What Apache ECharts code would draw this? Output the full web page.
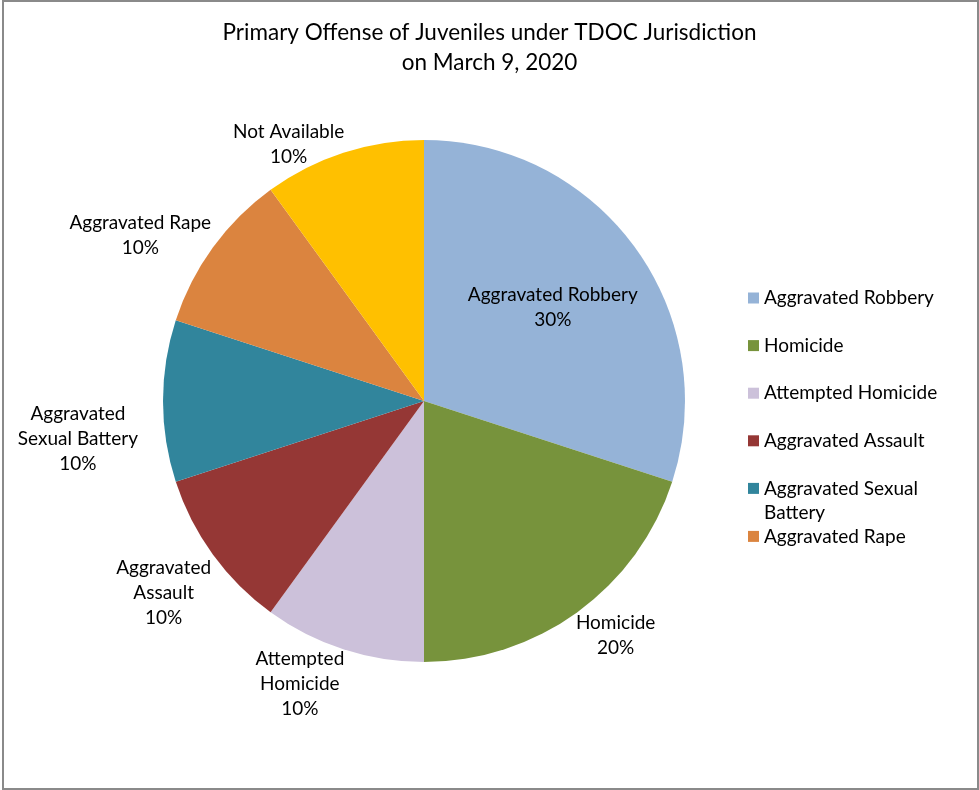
<!DOCTYPE html>
<html>
<head>
<meta charset="utf-8">
<script src="https://cdn.jsdelivr.net/npm/echarts@6/dist/echarts.min.js"></script>
<style>
  html, body { margin: 0; padding: 0; background: #fff; }
  #frame { position: absolute; left: 2px; top: 0; width: 977px; height: 790px; box-sizing: border-box; border: 2px solid #8a8a8a; }
  #main { position: absolute; left: 0; top: 0; width: 979px; height: 790px; }
</style>
</head>
<body>
<div id="frame"></div>
<div id="main"></div>
<script>
// ---- data ----
const titleLines = ['Primary Offense of Juveniles under TDOC Jurisdiction', 'on March 9, 2020'];
const categories = ['Aggravated Robbery', 'Homicide', 'Attempted Homicide', 'Aggravated Assault', 'Aggravated Sexual Battery', 'Aggravated Rape', 'Not Available'];
const percents = [30, 20, 10, 10, 10, 10, 10];
const sliceLabelTexts = ['Aggravated Robbery', 'Homicide', 'Attempted\nHomicide', 'Aggravated\nAssault', 'Aggravated\nSexual Battery', 'Aggravated Rape', 'Not Available'];
const legendNames = ['Aggravated Robbery', 'Homicide', 'Attempted Homicide', 'Aggravated Assault', 'Aggravated Sexual Battery', 'Aggravated Rape'];
const legendTexts = ['Aggravated Robbery', 'Homicide', 'Attempted Homicide', 'Aggravated Assault', 'Aggravated Sexual\nBattery', 'Aggravated Rape'];
const sliceColors = ['#95B3D7', '#77933C', '#CCC1DA', '#953735', '#31859C', '#DB843F', '#FFC000'];

// ---- layout / style ----
const FONT = 'Lato';
const PIE_CX = 424, PIE_CY = 401, PIE_R = 261;
const LABEL_GAP = -3;          // corner distance beyond the rim
const SIDE_EXTRA = 28;         // extra clearance for labels beside the pie (left/right)
const UPPER_OVERLAP = 14;      // upper labels may tuck their short last line toward the rim
const INSIDE_FRACTION = 0.61;
const LEGEND_LEFT = 748, LEGEND_FIRST = 298, LEGEND_STEP = 47.6, LEGEND_LH = 24;

const chart = echarts.init(document.getElementById('main'), null, { renderer: 'canvas' });

// one legend block per entry so multi-line entries keep the marker on their first line
const legends = [];
let centerY = LEGEND_FIRST;
legendNames.forEach(function (name, i) {
  const lines = legendTexts[i].split('\n');
  const padded = new Array(lines.length - 1).fill('').concat(lines);
  const halfH = padded.length * LEGEND_LH / 2;
  legends.push({
    data: [name],
    orient: 'vertical',
    left: LEGEND_LEFT,
    top: centerY - halfH,
    padding: 0,
    itemWidth: 11,
    itemHeight: 11,
    icon: 'rect',
    selectedMode: false,
    formatter: function () { return padded.join('\n'); },
    textStyle: { fontFamily: FONT, fontSize: 19, color: '#000', lineHeight: LEGEND_LH }
  });
  centerY += (lines.length > 1) ? LEGEND_LH * 2 : LEGEND_STEP;
});

const pieData = categories.map(function (c, i) {
  return { name: c, value: percents[i], labelText: sliceLabelTexts[i], itemStyle: { color: sliceColors[i] } };
});

const option = {
  animation: false,
  title: {
    text: titleLines.join('\n'),
    left: 'center',
    top: 18,
    padding: 0,
    textStyle: { fontFamily: FONT, fontSize: 22.5, fontWeight: 'normal', color: '#000', lineHeight: 30 }
  },
  legend: legends,
  series: [{
    type: 'pie',
    center: [PIE_CX, PIE_CY],
    radius: PIE_R,
    startAngle: 90,
    clockwise: true,
    data: pieData,
    itemStyle: { borderWidth: 0 },
    emphasis: { disabled: true },
    label: {
      show: true,
      position: 'inside',
      fontFamily: FONT,
      fontSize: 19,
      lineHeight: 25,
      color: '#000',
      align: 'center',
      formatter: function (p) { return p.data.labelText + '\n' + Math.round(p.percent) + '%'; }
    },
    labelLine: { show: false },
    labelLayout: function (p) {
      const r = p.labelRect;
      const mx = r.x + r.width / 2, my = r.y + r.height / 2;
      let ux = mx - PIE_CX, uy = my - PIE_CY;
      const L = Math.hypot(ux, uy) || 1;
      ux /= L; uy /= L;
      if (p.dataIndex === 0) {
        const t = PIE_R * INSIDE_FRACTION;
        return { x: PIE_CX + ux * t, y: PIE_CY + uy * t, align: 'center', verticalAlign: 'middle' };
      }
      // the label corner facing the pie sits on the slice's mid-angle ray, just outside the rim
      const gap = LABEL_GAP + SIDE_EXTRA * Math.pow(Math.abs(ux), 8);
      const px = PIE_CX + ux * (PIE_R + gap);
      const py = PIE_CY + uy * (PIE_R + gap);
      const sx = ux >= 0 ? 1 : -1;
      const sy = uy >= -0.02 ? 1 : -1;
      const vOff = sy > 0 ? r.height / 2 : r.height / 2 - UPPER_OVERLAP;
      return { x: px + sx * r.width / 2, y: py + sy * vOff, align: 'center', verticalAlign: 'middle' };
    }
  }]
};
chart.setOption(option);
</script>
</body>
</html>
